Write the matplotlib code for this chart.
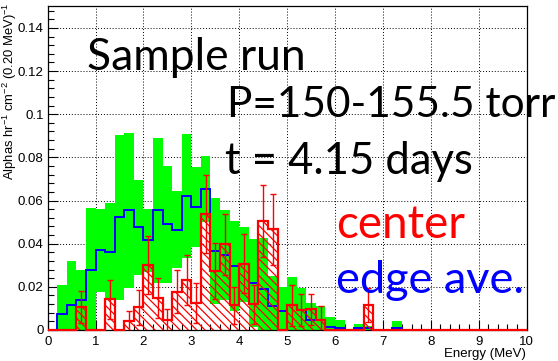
import numpy as np
import matplotlib
matplotlib.use("Agg")
import matplotlib.pyplot as plt
from matplotlib.ticker import MultipleLocator, FixedLocator, FixedFormatter

# 0.2 MeV energy bins, 0-10 MeV
bin_edges = np.round(np.arange(0.0, 10.0 + 1e-9, 0.2), 2)

# edge detectors: average rate and half-width of the spread band
edge_ave = [
    0.0, 0.0072, 0.0117, 0.0138, 0.0280, 0.0369, 0.0363, 0.0523, 0.0554, 0.0477,
    0.0415, 0.0554, 0.0490, 0.0465, 0.0620, 0.0570, 0.0654, 0.0366, 0.0346, 0.0295,
    0.0305, 0.0218, 0.0192, 0.0110, 0.0088, 0.0115, 0.0092, 0.0046, 0.0046, 0.0015,
    0.0010, 0.0, 0.0008, 0.0010, 0.0, 0.0, 0.0011, 0.0, 0.0, 0.0,
    0.0, 0.0, 0.0, 0.0, 0.0, 0.0, 0.0, 0.0, 0.0, 0.0,
]
edge_spread = [
    0.0, 0.0136, 0.0203, 0.0139, 0.0286, 0.0191, 0.0225, 0.0382, 0.0358, 0.0220,
    0.0147, 0.0334, 0.0270, 0.0178, 0.0288, 0.0187, 0.0154, 0.0244, 0.0208, 0.0208,
    0.0173, 0.0205, 0.0236, 0.0140, 0.0112, 0.0131, 0.0103, 0.0079, 0.0066, 0.0045,
    0.0036, 0.0, 0.0022, 0.0010, 0.0, 0.0, 0.0031, 0.0, 0.0, 0.0,
    0.0, 0.0, 0.0, 0.0, 0.0, 0.0, 0.0, 0.0, 0.0, 0.0,
]

# center detector: rate and statistical error
center_rate = [
    0.0, 0.0, 0.0, 0.0106, 0.0, 0.0, 0.0142, 0.0, 0.0042, 0.0105,
    0.0300, 0.0149, 0.0046, 0.0177, 0.0231, 0.0126, 0.0538, 0.0274, 0.0397, 0.0115,
    0.0308, 0.0120, 0.0503, 0.0466, 0.0, 0.0115, 0.0093, 0.0095, 0.0048, 0.0,
    0.0, 0.0, 0.0, 0.0116, 0.0, 0.0, 0.0, 0.0, 0.0, 0.0,
    0.0, 0.0, 0.0, 0.0, 0.0, 0.0, 0.0, 0.0, 0.0, 0.0,
]
center_err = [
    0.0, 0.0, 0.0, 0.0074, 0.0, 0.0, 0.0092, 0.0, 0.0046, 0.0080,
    0.0134, 0.0094, 0.0049, 0.0100, 0.0115, 0.0094, 0.0182, 0.0130, 0.0140, 0.0085,
    0.0137, 0.0090, 0.0167, 0.0164, 0.0, 0.0095, 0.0075, 0.0073, 0.0062, 0.0,
    0.0, 0.0, 0.0, 0.0080, 0.0, 0.0, 0.0, 0.0, 0.0, 0.0,
    0.0, 0.0, 0.0, 0.0, 0.0, 0.0, 0.0, 0.0, 0.0, 0.0,
]

x_ticks = [0, 1, 2, 3, 4, 5, 6, 7, 8, 9, 10]
y_ticks = [0.0, 0.02, 0.04, 0.06, 0.08, 0.10, 0.12, 0.14]
y_tick_labels = ["0", "0.02", "0.04", "0.06", "0.08", "0.1", "0.12", "0.14"]

plt.rcParams["font.family"] = ["Liberation Sans", "DejaVu Sans"]
plt.rcParams["mathtext.fontset"] = "custom"
plt.rcParams["mathtext.rm"] = "Liberation Sans"
plt.rcParams["mathtext.it"] = "Liberation Sans:italic"
plt.rcParams["mathtext.default"] = "regular"
plt.rcParams["hatch.linewidth"] = 0.9

W, H = 558, 361
fig = plt.figure(figsize=(W / 100, H / 100), dpi=100)
ax = fig.add_axes([47.7 / W, 1 - 330 / H, (526.5 - 47.7) / W, (330 - 6.3) / H])

centers = 0.5 * (bin_edges[:-1] + bin_edges[1:])
ave = np.asarray(edge_ave)
spread = np.asarray(edge_spread)
lo = np.clip(ave - spread, 0, None)
hi = ave + spread
rate = np.asarray(center_rate)
err = np.asarray(center_err)

# edge band and average
ax.bar(centers, hi - lo, bottom=lo, width=0.2, color="#00ff00", linewidth=0, zorder=2)
ax.stairs(ave, bin_edges, color="#0000ff", linewidth=1.4, zorder=3)

# center histogram: hatched fill, outline, error bars
ax.bar(centers, rate, width=0.2, facecolor="none", edgecolor="#ff0000",
       hatch="\\\\\\\\", linewidth=0, zorder=4)
ax.stairs(rate, bin_edges, color="#ff0000", linewidth=1.6, zorder=5, clip_on=False)
m = rate > 0
ax.errorbar(centers[m], rate[m], yerr=err[m], fmt="none", ecolor="#ff0000",
            elinewidth=1.0, capsize=2, capthick=1.0, zorder=6)

ax.set_xlim(0, 10)
ax.set_ylim(0, 0.15)
ax.xaxis.set_major_locator(FixedLocator(x_ticks))
ax.xaxis.set_minor_locator(MultipleLocator(0.2))
ax.yaxis.set_major_locator(FixedLocator(y_ticks))
ax.yaxis.set_major_formatter(FixedFormatter(y_tick_labels))
ax.yaxis.set_minor_locator(MultipleLocator(0.004))
ax.tick_params(which="both", direction="in", top=False, right=False,
               width=0.8, labelsize=9.5, colors="black")
ax.tick_params(which="major", length=7)
ax.tick_params(which="minor", length=4.2)
ax.tick_params(axis="x", pad=4)
ax.tick_params(axis="y", pad=3)
ax.grid(True, which="major", color="black", linestyle=(0, (1, 2)), linewidth=0.7)
ax.set_axisbelow(True)
for s in ax.spines.values():
    s.set_linewidth(0.9)
    s.set_color("black")

fig.text(9.5 / W, 1 - 2 / H, "Alphas hr$^{-1}$ cm$^{-2}$ (0.20 MeV)$^{-1}$",
         rotation=90, ha="center", va="top", fontsize=9.4)
fig.text(526 / W, 1 - 357 / H, "Energy (MeV)", ha="right", va="baseline", fontsize=9.5)

renderer = fig.canvas.get_renderer()


def big_text(s, x0, x1, base, color):
    t = fig.text(x0 / W, 1 - base / H, s, ha="left", va="baseline",
                 fontsize=30, family="Lato", color=color)
    w = t.get_window_extent(renderer).width
    t.set_fontsize(30 * (x1 - x0) / w)
    return t


big_text("Sample run", 87, 305, 70, "black")
big_text("P=150-155.5 torr", 227, 555, 117, "black")
big_text("t = 4.15 days", 225, 473, 174, "black")
big_text("center", 336, 465, 238, "#ff0000")
big_text("edge ave.", 336, 524, 293, "#0000ff")

fig.savefig("out.png", dpi=100)
